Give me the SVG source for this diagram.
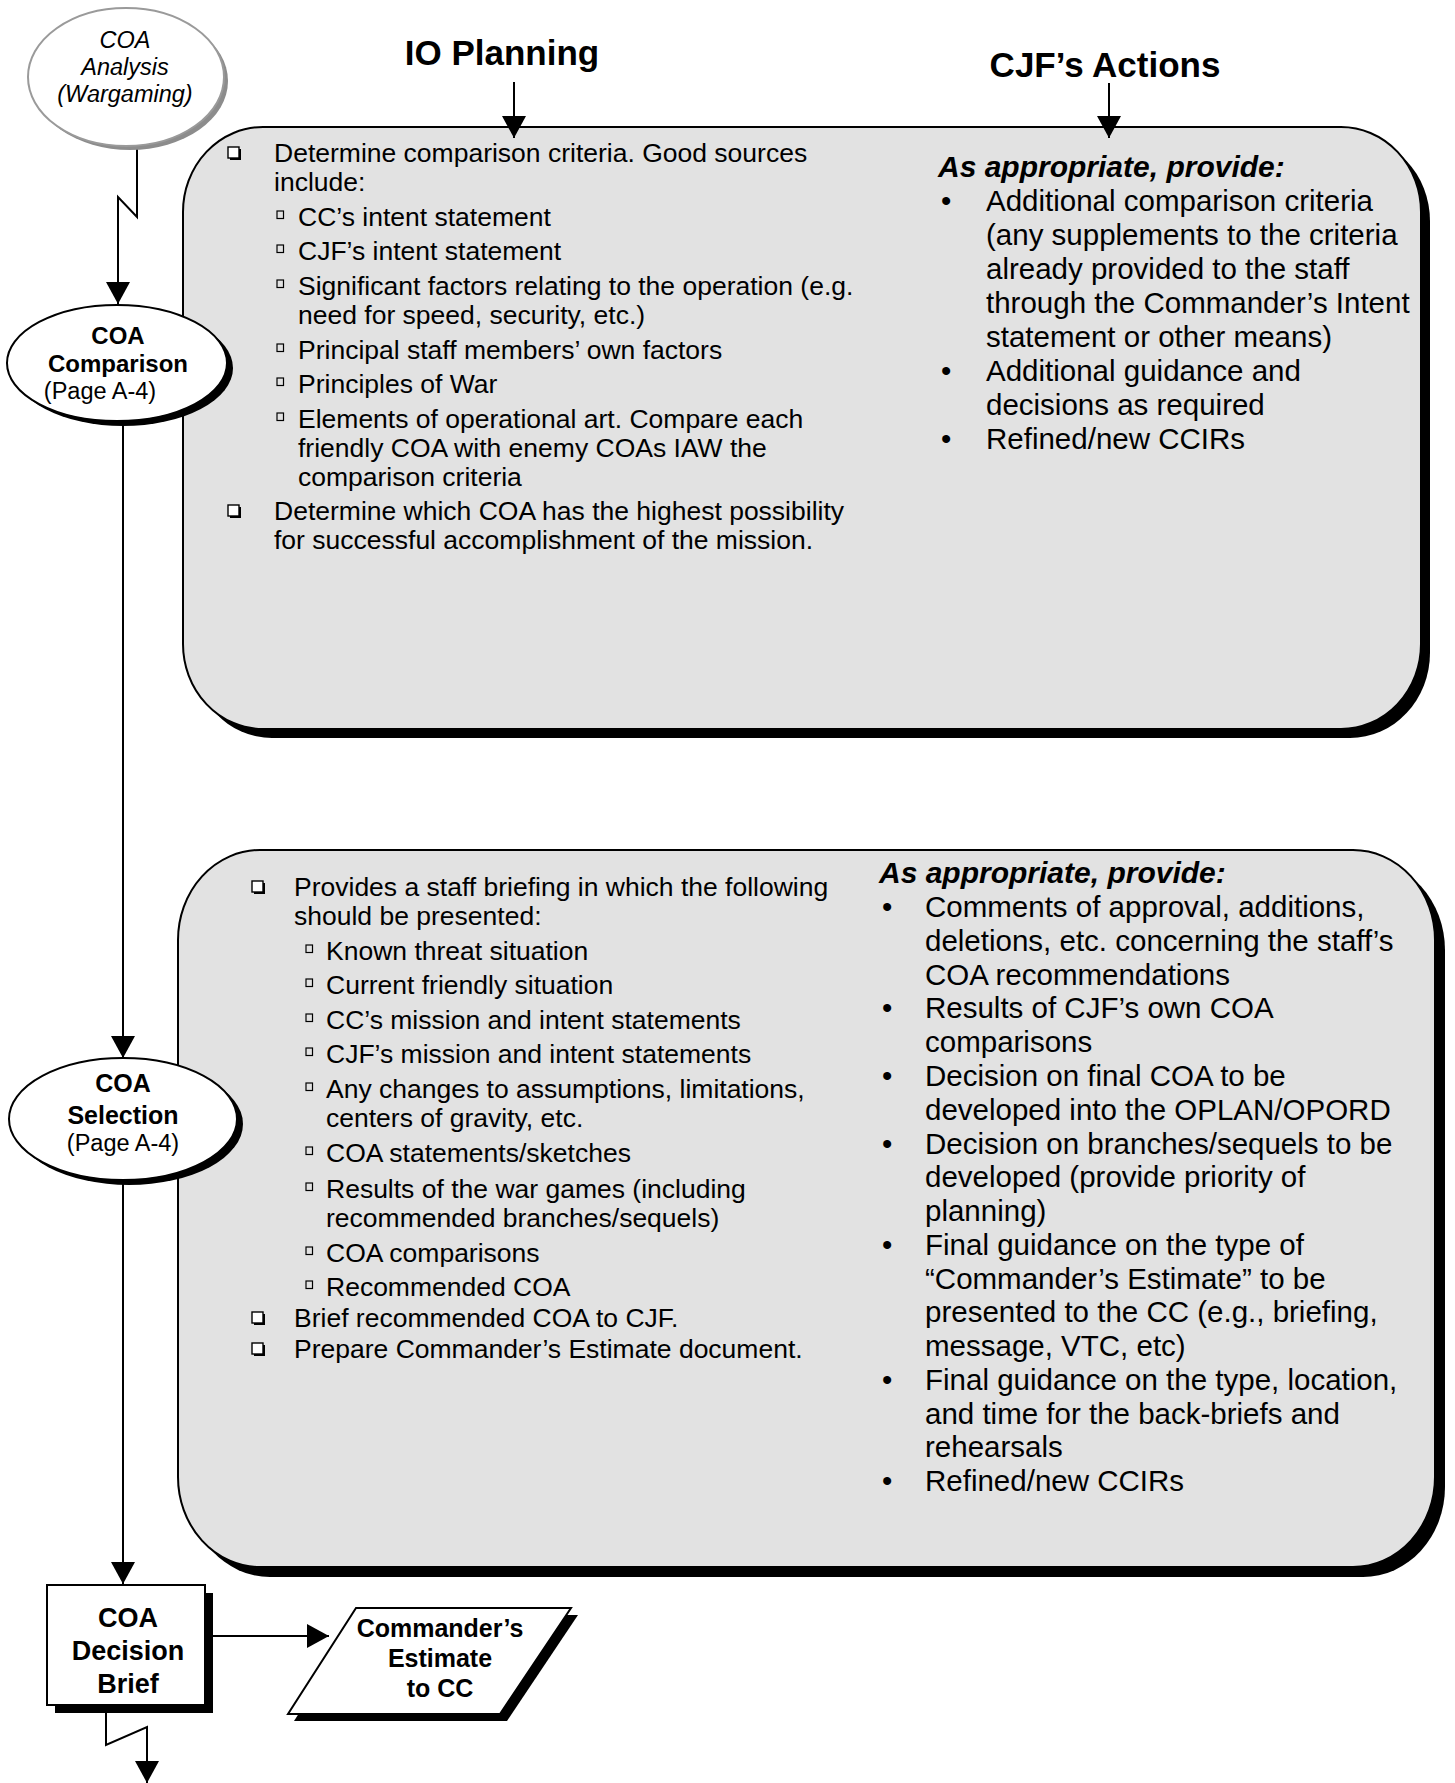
<svg xmlns="http://www.w3.org/2000/svg" width="1455" height="1783" viewBox="0 0 1455 1783">
  <defs>
    <style>
      text { font-family: "Liberation Sans", Arial, sans-serif; fill: #000; }
      .title { font-size: 35px; font-weight: bold; text-anchor: middle; }
      .lt { font-size: 26.5px; }
      .rt { font-size: 29.5px; }
      .head { font-size: 30px; font-weight: bold; font-style: italic; }
      .nb { font-weight: bold; text-anchor: middle; }
      .nr { text-anchor: middle; }
      .panel { fill: #e2e2e2; stroke: #000; stroke-width: 2; }
      .shadow { fill: #000; }
      .node { fill: #fff; stroke: #000; stroke-width: 2; }
      .wire { fill: none; stroke: #000; stroke-width: 2; }
      .cb { fill: #fff; stroke: #000; stroke-width: 1.4; }
      .sb { fill: none; stroke: #000; stroke-width: 1.2; }
    </style>
    <marker id="arrow" viewBox="0 0 22 24" refX="22" refY="12" markerWidth="22" markerHeight="24" markerUnits="userSpaceOnUse" orient="auto">
      <path d="M0,0 L22,12 L0,24 Z" fill="#000"/>
    </marker>
    <!-- checkbox bullet with drop shadow -->
    <g id="checkbox">
      <rect x="2" y="2" width="11" height="11" fill="#000"/>
      <rect x="0" y="0" width="11" height="11" class="cb"/>
    </g>
    <rect id="subbox" x="0" y="0" width="6.5" height="7.5" class="sb"/>
  </defs>

  <rect width="1455" height="1783" fill="#fff"/>

  <!-- column headings -->
  <text class="title" x="502" y="65">IO Planning</text>
  <text class="title" x="1105" y="77">CJF’s Actions</text>

  <!-- upper panel: COA comparison -->
  <g id="panel-comparison">
    <rect class="shadow" x="192" y="136" width="1238" height="602" rx="80" ry="85"/>
    <rect class="panel" x="183" y="127" width="1238" height="602" rx="80" ry="85"/>
    <g class="lt">
      <use href="#checkbox" x="228" y="147"/>
      <text x="274" y="162">Determine comparison criteria. Good sources</text>
      <text x="274" y="191">include:</text>
      <use href="#subbox" x="277" y="211"/>
      <text x="298" y="226">CC’s intent statement</text>
      <use href="#subbox" x="277" y="245"/>
      <text x="298" y="260">CJF’s intent statement</text>
      <use href="#subbox" x="277" y="280"/>
      <text x="298" y="295">Significant factors relating to the operation (e.g.</text>
      <text x="298" y="324">need for speed, security, etc.)</text>
      <use href="#subbox" x="277" y="344"/>
      <text x="298" y="359">Principal staff members’ own factors</text>
      <use href="#subbox" x="277" y="378"/>
      <text x="298" y="393">Principles of War</text>
      <use href="#subbox" x="277" y="413"/>
      <text x="298" y="428">Elements of operational art. Compare each</text>
      <text x="298" y="457">friendly COA with enemy COAs IAW the</text>
      <text x="298" y="486">comparison criteria</text>
      <use href="#checkbox" x="228" y="505"/>
      <text x="274" y="520">Determine which COA has the highest possibility</text>
      <text x="274" y="549">for successful accomplishment of the mission.</text>
    </g>
    <text class="head" x="938" y="177">As appropriate, provide:</text>
    <g class="rt">
      <text x="941" y="211">•</text>
      <text x="986" y="211">Additional comparison criteria</text>
      <text x="986" y="245">(any supplements to the criteria</text>
      <text x="986" y="279">already provided to the staff</text>
      <text x="986" y="313">through the Commander’s Intent</text>
      <text x="986" y="347">statement or other means)</text>
      <text x="941" y="381">•</text>
      <text x="986" y="381">Additional guidance and</text>
      <text x="986" y="415">decisions as required</text>
      <text x="941" y="449">•</text>
      <text x="986" y="449">Refined/new CCIRs</text>
    </g>
  </g>

  <!-- lower panel: COA selection -->
  <g id="panel-selection">
    <rect class="shadow" x="188" y="860" width="1257" height="717" rx="82" ry="90"/>
    <rect class="panel" x="178" y="850" width="1257" height="717" rx="82" ry="90"/>
    <g class="lt">
      <use href="#checkbox" x="252" y="881"/>
      <text x="294" y="896">Provides a staff briefing in which the following</text>
      <text x="294" y="925">should be presented:</text>
      <use href="#subbox" x="306" y="945"/>
      <text x="326" y="960">Known threat situation</text>
      <use href="#subbox" x="306" y="979"/>
      <text x="326" y="994">Current friendly situation</text>
      <use href="#subbox" x="306" y="1014"/>
      <text x="326" y="1029">CC’s mission and intent statements</text>
      <use href="#subbox" x="306" y="1048"/>
      <text x="326" y="1063">CJF’s mission and intent statements</text>
      <use href="#subbox" x="306" y="1083"/>
      <text x="326" y="1098">Any changes to assumptions, limitations,</text>
      <text x="326" y="1127">centers of gravity, etc.</text>
      <use href="#subbox" x="306" y="1147"/>
      <text x="326" y="1162">COA statements/sketches</text>
      <use href="#subbox" x="306" y="1183"/>
      <text x="326" y="1198">Results of the war games (including</text>
      <text x="326" y="1227">recommended branches/sequels)</text>
      <use href="#subbox" x="306" y="1247"/>
      <text x="326" y="1262">COA comparisons</text>
      <use href="#subbox" x="306" y="1281"/>
      <text x="326" y="1296">Recommended COA</text>
      <use href="#checkbox" x="252" y="1312"/>
      <text x="294" y="1327">Brief recommended COA to CJF.</text>
      <use href="#checkbox" x="252" y="1343"/>
      <text x="294" y="1358">Prepare Commander’s Estimate document.</text>
    </g>
    <text class="head" x="879" y="883">As appropriate, provide:</text>
    <g class="rt">
      <text x="882" y="917">•</text>
      <text x="925" y="917">Comments of approval, additions,</text>
      <text x="925" y="951">deletions, etc. concerning the staff’s</text>
      <text x="925" y="985">COA recommendations</text>
      <text x="882" y="1018">•</text>
      <text x="925" y="1018">Results of CJF’s own COA</text>
      <text x="925" y="1052">comparisons</text>
      <text x="882" y="1086">•</text>
      <text x="925" y="1086">Decision on final COA to be</text>
      <text x="925" y="1120">developed into the OPLAN/OPORD</text>
      <text x="882" y="1154">•</text>
      <text x="925" y="1154">Decision on branches/sequels to be</text>
      <text x="925" y="1187">developed (provide priority of</text>
      <text x="925" y="1221">planning)</text>
      <text x="882" y="1255">•</text>
      <text x="925" y="1255">Final guidance on the type of</text>
      <text x="925" y="1289">“Commander’s Estimate” to be</text>
      <text x="925" y="1322">presented to the CC (e.g., briefing,</text>
      <text x="925" y="1356">message, VTC, etc)</text>
      <text x="882" y="1390">•</text>
      <text x="925" y="1390">Final guidance on the type, location,</text>
      <text x="925" y="1424">and time for the back-briefs and</text>
      <text x="925" y="1457">rehearsals</text>
      <text x="882" y="1491">•</text>
      <text x="925" y="1491">Refined/new CCIRs</text>
    </g>
  </g>

  <!-- connectors -->
  <g id="connectors">
    <path class="wire" d="M514,82 V138" marker-end="url(#arrow)"/>
    <path class="wire" d="M1109,83 V138" marker-end="url(#arrow)"/>
    <path class="wire" d="M137,147 V217 L118,197 V304" marker-end="url(#arrow)"/>
    <path class="wire" d="M123,421 V1058" marker-end="url(#arrow)"/>
    <path class="wire" d="M123,1180 V1584" marker-end="url(#arrow)"/>
    <path class="wire" d="M206,1636 H329" marker-end="url(#arrow)"/>
    <path class="wire" d="M106,1705 V1745 L147,1727 V1783" marker-end="url(#arrow)"/>
  </g>

  <!-- nodes -->
  <g id="coa-analysis">
    <ellipse cx="130" cy="81" rx="98" ry="69" fill="#8c8c8c"/>
    <ellipse cx="126" cy="77" rx="98" ry="69" fill="#fff" stroke="#9a9a9a" stroke-width="2"/>
    <g style="font-size:23.5px;font-style:italic">
      <text class="nr" x="125" y="48">COA</text>
      <text class="nr" x="125" y="75">Analysis</text>
      <text class="nr" x="125" y="102">(Wargaming)</text>
    </g>
  </g>

  <g id="coa-comparison">
    <ellipse class="shadow" cx="123" cy="368" rx="110" ry="58"/>
    <ellipse class="node" cx="117" cy="363" rx="110" ry="58"/>
    <text class="nb" x="118" y="344" style="font-size:24px">COA</text>
    <text class="nb" x="118" y="372" style="font-size:24px">Comparison</text>
    <text class="nr" x="100" y="399" style="font-size:23.5px">(Page A-4)</text>
  </g>

  <g id="coa-selection">
    <ellipse class="shadow" cx="129" cy="1124" rx="114" ry="61"/>
    <ellipse class="node" cx="123" cy="1119" rx="114" ry="61"/>
    <text class="nb" x="123" y="1092" style="font-size:25px">COA</text>
    <text class="nb" x="123" y="1124" style="font-size:25px">Selection</text>
    <text class="nr" x="123" y="1151" style="font-size:23.5px">(Page A-4)</text>
  </g>

  <g id="coa-decision-brief">
    <rect class="shadow" x="55" y="1593" width="158" height="120"/>
    <rect class="node" x="47" y="1585" width="158" height="120"/>
    <text class="nb" x="128" y="1627" style="font-size:27px">COA</text>
    <text class="nb" x="128" y="1660" style="font-size:27px">Decision</text>
    <text class="nb" x="128" y="1693" style="font-size:27px">Brief</text>
  </g>

  <g id="commanders-estimate">
    <polygon class="shadow" points="362,1615 578,1615 507,1721 294,1721"/>
    <polygon class="node" points="356,1608 571,1608 500,1714 288,1714"/>
    <text class="nb" x="440" y="1637" style="font-size:25px">Commander’s</text>
    <text class="nb" x="440" y="1667" style="font-size:25px">Estimate</text>
    <text class="nb" x="440" y="1697" style="font-size:25px">to CC</text>
  </g>
</svg>
